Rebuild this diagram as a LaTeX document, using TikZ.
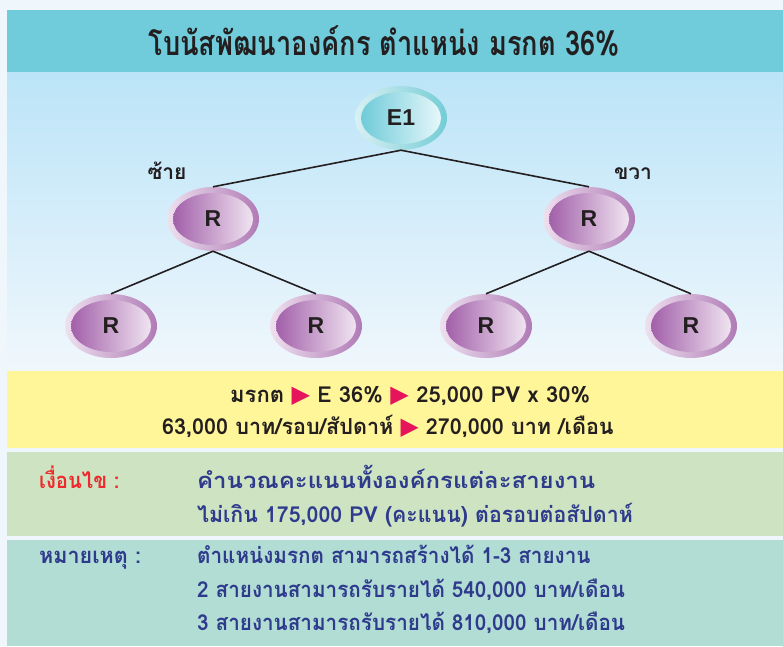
\documentclass[tikz,border=0pt]{standalone}
\usepackage{fontspec}
\usepackage{graphicx}
\usetikzlibrary{shapes.geometric,positioning}

\setmainfont{Liberation Serif}
\newfontfamily\thaifont[Script=Thai]{Loma}
\newfontfamily\labelfont{Liberation Sans}
\newfontfamily\symfont{DejaVu Sans}

\definecolor{pagebg}{HTML}{F0F7FC}
\definecolor{titlebg}{HTML}{70CCDB}
\definecolor{treetop}{HTML}{BBE4F8}
\definecolor{yellowbg}{HTML}{FFF599}
\definecolor{greenbg}{HTML}{CDE3C1}
\definecolor{notebg}{HTML}{B2DDD4}
\definecolor{textblue}{HTML}{2E3A8C}
\definecolor{textred}{HTML}{EE2A2E}
\definecolor{tricol}{HTML}{E6145A}
\definecolor{inkdark}{HTML}{231F20}
\definecolor{purpdark}{HTML}{9C56A4}
\definecolor{purplite}{HTML}{F6EEF6}
\definecolor{ringpurp}{HTML}{B07BB6}
\definecolor{ringpink}{HTML}{EEE0EF}
\definecolor{tealdark}{HTML}{66C8D7}
\definecolor{teallite}{HTML}{F0FAFC}
\definecolor{ringteal}{HTML}{74CCD5}
\definecolor{ringaqua}{HTML}{D8F0F3}

\newcommand\tri{{\symfont\fontsize{24}{24}\selectfont\color{tricol}▶}}
\newcommand\sq[2]{\scalebox{#1}[1]{#2}}

\tikzset{
  rnode/.style={ellipse, minimum width=92pt, minimum height=64pt, inner sep=0pt,
    left color=ringpink, right color=ringpurp,
    font=\labelfont\bfseries\fontsize{23}{23}\selectfont, text=inkdark,
    path picture={\shade[left color=purpdark, right color=purplite]
      (path picture bounding box.center) ellipse [x radius=40pt, y radius=26pt];}},
  enode/.style={rnode, left color=ringaqua, right color=ringteal,
    path picture={\shade[left color=tealdark, right color=teallite]
      (path picture bounding box.center) ellipse [x radius=40pt, y radius=26pt];}},
  link/.style={inkdark, line width=1.6pt},
  side/.style={font=\thaifont\bfseries\fontsize{21}{21}\selectfont, text=inkdark, anchor=base, inner sep=0pt},
  bigline/.style={font=\thaifont\bfseries\fontsize{34}{34}\selectfont, text=inkdark, anchor=base, inner sep=0pt},
  yline/.style={font=\thaifont\bfseries\fontsize{22}{22}\selectfont, text=inkdark, anchor=base west, inner sep=0pt},
  bline/.style={yline, text=textblue},
  rline/.style={yline, text=textred}
}

\begin{document}
\begin{tikzpicture}[x=1pt,y=-1pt]
    \useasboundingbox (0,0) rectangle (783,646);
    % bands
    \fill[pagebg] (0,0) rectangle (783,646);
    \fill[titlebg] (7,10) rectangle (783,72);
    \shade[top color=treetop, bottom color=pagebg] (7,72) rectangle (783,371);
    \fill[yellowbg] (7,371) rectangle (783,448);
    \fill[greenbg] (7,452) rectangle (783,536);
    \fill[notebg] (7,540) rectangle (783,646);

    \node[bigline] (title) at (384,55) {\sq{0.8}{โบนัสพัฒนาองค์กร ตำแหน่ง มรกต 36\%}};

    % tree
    \node[enode] (e1) at (401,118) {E1};
    \foreach \n/\x/\y in {rl/213/219, rr/589/219, rll/111/326, rlr/316/326, rrl/486/326, rrr/691/326}
        \node[rnode] (\n) at (\x,\y) {R};
    \foreach \a/\b in {e1/rl, e1/rr, rl/rll, rl/rlr, rr/rrl, rr/rrr}
        \draw[link] (\a.south) -- (\b.north);
    \node[side] (leftlbl)  at (167,179) {ซ้าย};
    \node[side] (rightlbl) at (633,179) {ขวา};

    % yellow box
    \node[yline] (gem1) at (230,402) {\sq{1.0}{มรกต \tri\ E 36\% \tri\ 25,000 PV x 30\%}};
    \node[yline] (gem2) at (162,434) {\sq{0.98}{63,000 บาท/รอบ/สัปดาห์ \tri\ 270,000 บาท /เดือน}};

    % conditions
    \node[rline] (condhead) at (39,488) {\sq{0.92}{เงื่อนไข :}};
    \node[bline] (cond1) at (197,488) {\sq{1.09}{คำนวณคะแนนทั้งองค์กรแต่ละสายงาน}};
    \node[bline] (cond2) at (197,522) {\sq{0.97}{ไม่เกิน 175,000 PV (คะแนน) ต่อรอบต่อสัปดาห์}};

    % notes
    \node[bline] (notehead) at (39,563) {\sq{0.98}{หมายเหตุ :}};
    \node[bline] (note1) at (197,563) {\sq{0.94}{ตำแหน่งมรกต สามารถสร้างได้ 1-3 สายงาน}};
    \node[bline] (note2) at (197,597) {\sq{0.94}{2 สายงานสามารถรับรายได้ 540,000 บาท/เดือน}};
    \node[bline] (note3) at (197,630) {\sq{0.94}{3 สายงานสามารถรับรายได้ 810,000 บาท/เดือน}};
\end{tikzpicture}
\end{document}
